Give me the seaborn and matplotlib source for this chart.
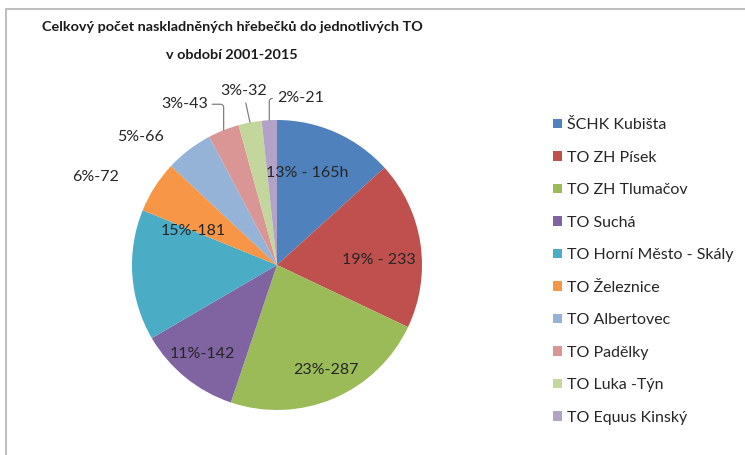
import numpy as np
import matplotlib
matplotlib.use("Agg")
import matplotlib.pyplot as plt
import seaborn as sns
from matplotlib.patches import Rectangle

# data
stations = ["ŠCHK Kubišta", "TO ZH Písek", "TO ZH Tlumačov", "TO Suchá",
            "TO Horní Město - Skály", "TO Železnice", "TO Albertovec",
            "TO Padělky", "TO Luka -Týn", "TO Equus Kinský"]
counts = [165, 233, 287, 142, 181, 72, 66, 43, 32, 21]
labels = ["13% - 165h", "19% - 233", "23%-287", "11%-142", "15%-181",
          "6%-72", "5%-66", "3%-43", "3%-32", "2%-21"]
colors = ["#4F81BD", "#C0504D", "#9BBB59", "#8064A2", "#4BACC6",
          "#F79646", "#95B3D7", "#D99694", "#C3D69B", "#B3A2C7"]

# label placement (radius in pie units, angle in degrees)
label_pos = [(0.67, 72), (0.70, 3), (0.80, -65), (0.80, -130), (0.62, 158),
             (1.39, 154), (1.29, 137), (1.28, 120), (1.22, 101), (1.16, 82)]
leaders = {7: "angle,angleA=0,angleB=90,rad=3",
           8: "arc3",
           9: "angle,angleA=180,angleB=90,rad=3"}

sns.set_theme(style="white")
plt.rcParams["font.family"] = ["Lato", "DejaVu Sans"]
palette = sns.color_palette(colors)

W, H = 745, 455
fig = plt.figure(figsize=(W / 100, H / 100), dpi=100)
fig.patch.set_facecolor("white")

# pie centre / radius in pixels
cx, cy, R = 277, 190, 145
lim = 1.45
side = 2 * lim * R
ax = fig.add_axes([(cx - side / 2) / W, (cy - side / 2) / H, side / W, side / H])
wedges, _ = ax.pie(counts, colors=palette, startangle=90, counterclock=False,
                   radius=1, wedgeprops=dict(linewidth=0))
ax.set_xlim(-lim, lim)
ax.set_ylim(-lim, lim)
ax.set_aspect("equal")
ax.axis("off")

for i, (w, lab) in enumerate(zip(wedges, labels)):
    r, a = label_pos[i]
    tx, ty = r * np.cos(np.radians(a)), r * np.sin(np.radians(a))
    if i in leaders:
        mid = np.radians((w.theta1 + w.theta2) / 2)
        ax.annotate(lab, xy=(np.cos(mid), np.sin(mid)), xytext=(tx, ty),
                    ha="center", va="center", fontsize=11.5, color="#262626",
                    arrowprops=dict(arrowstyle="-", color="#808080", lw=0.9,
                                    shrinkA=1, shrinkB=0,
                                    connectionstyle=leaders[i]),
                    annotation_clip=False)
    else:
        ax.text(tx, ty, lab, ha="center", va="center", fontsize=11.5,
                color="#262626", clip_on=False)

leg = ax.legend(wedges, stations, loc="upper left",
                bbox_to_anchor=(553 / W, 1 - 118 / H), bbox_transform=fig.transFigure,
                frameon=False, fontsize=11.5, handlelength=0.55, handleheight=0.55,
                handletextpad=0.3, labelspacing=1.16, borderaxespad=0,
                borderpad=0)
for t in leg.get_texts():
    t.set_color("#262626")

fig.text(232 / W, 1 - 27 / H, "Celkový počet naskladněných hřebečků do jednotlivých TO",
         ha="center", va="center", fontsize=10.4, fontweight="bold", color="#1a1a1a")
fig.text(232 / W, 1 - 55 / H, "v období 2001-2015",
         ha="center", va="center", fontsize=10.4, fontweight="bold", color="#1a1a1a")

# chart area border
fig.patches.append(Rectangle((6 / W, -0.1), 2, 1 - 9 / H + 0.1, transform=fig.transFigure,
                             fill=False, ec="#BFBFBF", lw=1.5))

fig.savefig("out.png", dpi=100)
